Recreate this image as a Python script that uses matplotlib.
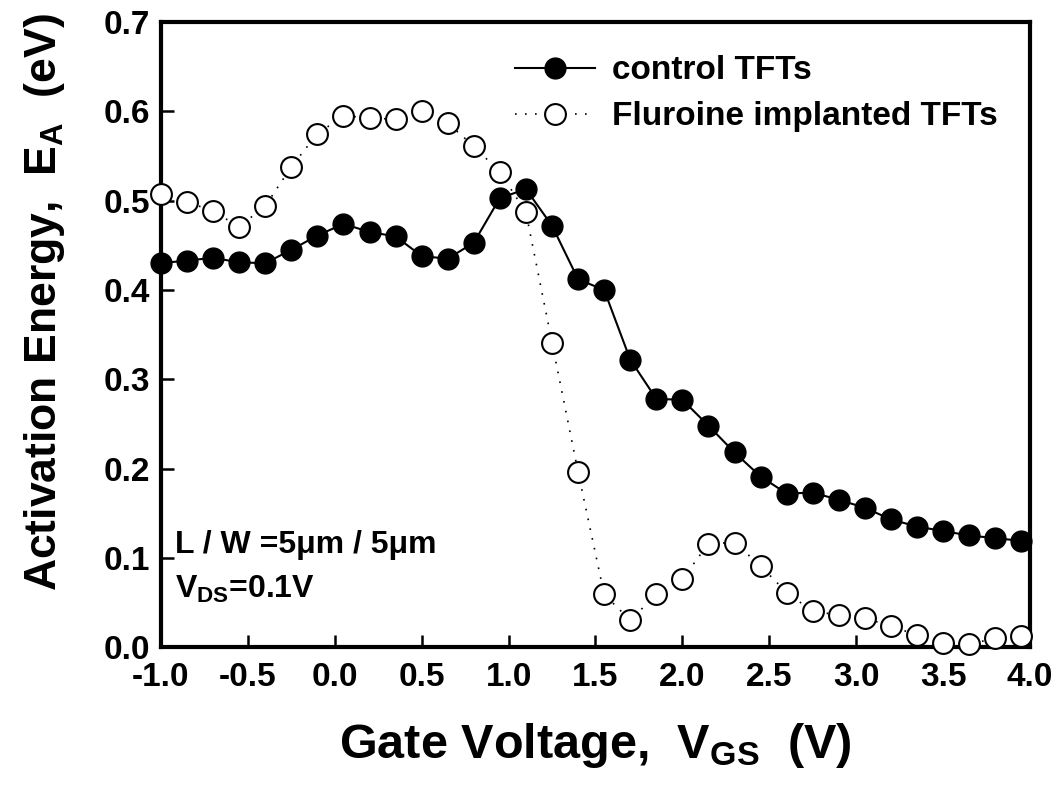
import numpy as np
import matplotlib
matplotlib.use('Agg')
import matplotlib.pyplot as plt

plt.rcParams['font.family'] = ['Liberation Sans', 'DejaVu Sans']
plt.rcParams['font.weight'] = 'bold'
plt.rcParams['axes.labelweight'] = 'bold'
plt.rcParams['mathtext.fontset'] = 'custom'
plt.rcParams['mathtext.rm'] = 'Liberation Sans:bold'
plt.rcParams['mathtext.bf'] = 'Liberation Sans:bold'
plt.rcParams['mathtext.it'] = 'Liberation Sans:bold'

# gate voltage (V)
vgs = [-1.0, -0.85, -0.7, -0.55, -0.4, -0.25, -0.1, 0.05, 0.2, 0.35, 0.5, 0.65,
       0.8, 0.95, 1.1, 1.25, 1.4, 1.55, 1.7, 1.85, 2.0, 2.15, 2.3, 2.45, 2.6, 2.75,
       2.9, 3.05, 3.2, 3.35, 3.5, 3.65, 3.8, 3.95]

# activation energy (eV), control TFTs
ea_control = [0.430, 0.433, 0.436, 0.431, 0.430, 0.445, 0.461, 0.474, 0.465, 0.460,
              0.438, 0.435, 0.453, 0.503, 0.513, 0.472, 0.412, 0.400, 0.322, 0.278,
              0.277, 0.248, 0.218, 0.191, 0.172, 0.173, 0.165, 0.156, 0.143, 0.135,
              0.130, 0.125, 0.122, 0.119]

# activation energy (eV), fluorine implanted TFTs
ea_fluorine = [0.508, 0.499, 0.488, 0.471, 0.494, 0.538, 0.575, 0.595, 0.593, 0.591,
               0.601, 0.587, 0.561, 0.532, 0.487, 0.341, 0.196, 0.059, 0.030, 0.059,
               0.076, 0.116, 0.117, 0.091, 0.061, 0.040, 0.036, 0.032, 0.024, 0.013,
               0.004, 0.003, 0.010, 0.012]

fig = plt.figure(figsize=(10.59, 7.92), dpi=100)
ax = fig.add_axes([0.152, 0.183, 0.8206, 0.789])

ax.plot(vgs, ea_control, '-o', color='black', lw=1.5, ms=15,
        mfc='black', mec='black', clip_on=False, zorder=3, label='control TFTs')
ax.plot(vgs, ea_fluorine, linestyle=(0, (1, 5)), marker='o', color='black', lw=1.2,
        ms=15, mfc='white', mec='black', mew=1.5, clip_on=False, zorder=4,
        label='Fluroine implanted TFTs')

ax.set_xlim(-1.0, 4.0)
ax.set_ylim(0.0, 0.7)
ax.set_xticks(np.arange(-1.0, 4.01, 0.5))
ax.set_yticks(np.arange(0.0, 0.71, 0.1))
ax.set_xticklabels(['%.1f' % v for v in np.arange(-1.0, 4.01, 0.5)])
ax.set_yticklabels(['%.1f' % v for v in np.arange(0.0, 0.71, 0.1)])

for s in ax.spines.values():
    s.set_linewidth(3)
ax.tick_params(direction='in', length=9, width=1.8, labelsize=24)
ax.tick_params(axis='x', pad=11)
ax.tick_params(axis='y', pad=8)

ax.set_xlabel(r'Gate Voltage,  V$_{\mathrm{GS}}$  (V)', fontsize=35,
              fontweight='bold', labelpad=20)
ax.set_ylabel(r'Activation Energy,  E$_{\mathrm{A}}$  (eV)', fontsize=32,
              fontweight='bold')
ax.yaxis.set_label_coords(-0.108, 0.552)

ax.legend(loc='upper left', bbox_to_anchor=(0.373, 0.995), frameon=False,
          prop={'size': 24, 'weight': 'bold'}, handlelength=2.4,
          handletextpad=0.5, labelspacing=0.45)

ax.text(0.016, 0.15, 'L / W =5μm / 5μm', transform=ax.transAxes, fontsize=23)
ax.text(0.016, 0.078, r'V$_{\mathrm{DS}}$=0.1V', transform=ax.transAxes, fontsize=23)

fig.savefig('out.png', dpi=100)
